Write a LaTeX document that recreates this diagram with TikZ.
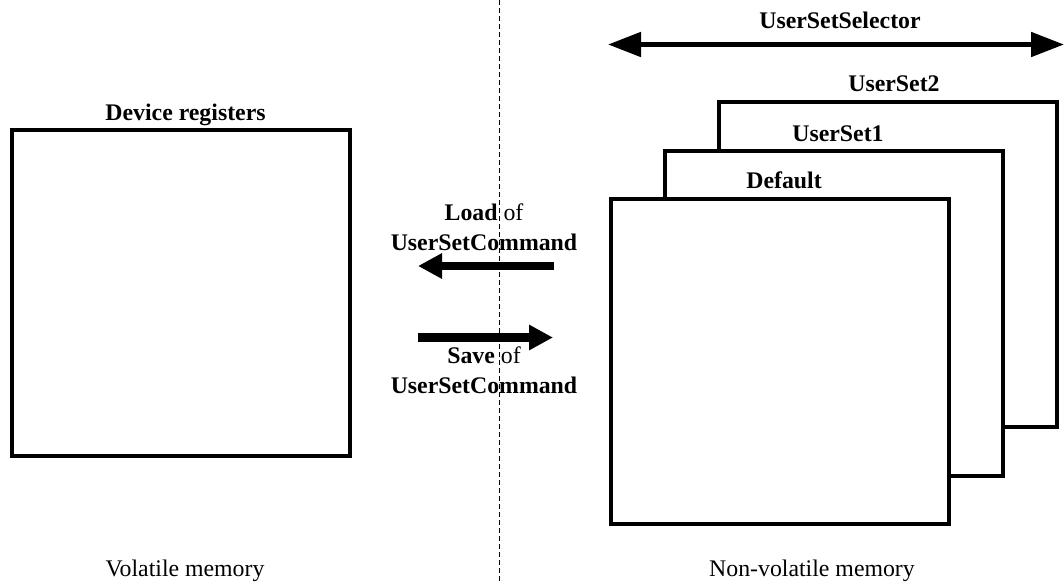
\documentclass[tikz,border=0pt]{standalone}
\usepackage{fontspec}
\setmainfont{Liberation Serif}
\usetikzlibrary{arrows.meta}
\begin{document}
\begin{tikzpicture}[x=1pt,y=-1pt,
  memBox/.style={draw=black,line width=4pt,fill=white,inner sep=0pt,minimum width=338pt,minimum height=325pt},
  lbl/.style={font=\fontsize{23.8}{30}\selectfont\bfseries,anchor=base,inner sep=0pt},
  rlbl/.style={font=\fontsize{23.8}{30}\selectfont,anchor=base,inner sep=0pt},
  cmdlbl/.style={font=\fontsize{23.8}{30}\selectfont,align=center,inner sep=0pt,anchor=base},
  fatArrow/.style={line width=8.5pt,-{Triangle[length=24pt,width=24pt]}}
]
\useasboundingbox (0,0) rectangle (1064,583);
% divider
\coordinate (divTop) at (499,0);
\coordinate (divBot) at (499,583);
\draw[line width=1pt,dash pattern=on 5pt off 3pt] (divTop) -- (divBot);

% volatile
\node[memBox,minimum width=338.5pt,minimum height=326.5pt] (dev) at (180.75,292.75) {};
\node[lbl] (devlbl) at (185.5,121) {Device registers};
\node[rlbl] (vol) at (185,576.5) {Volatile memory};

% non-volatile stack
\node[memBox] (us2) at (888,264.5) {};
\node[memBox] (us1) at (834,313.5) {};
\node[memBox] (def) at (779.5,361.5) {};
\node[lbl] (us2lbl) at (894,92) {UserSet2};
\node[lbl] (us1lbl) at (838,141) {UserSet1};
\node[lbl] (deflbl) at (784,188) {Default};
\node[rlbl] (nvol) at (812,576.5) {Non-volatile memory};

% selector
\node[lbl] (sellbl) at (840,29) {UserSetSelector};
\coordinate (selL) at (608,44.5);
\coordinate (selR) at (1064,44.5);
\draw[line width=5pt,{Triangle[length=33pt,width=24pt]}-{Triangle[length=33pt,width=24pt]}] (selL) -- (selR);

% load / save
\node[cmdlbl] (loadlbl) at (484,250) {\textbf{Load} of\\\textbf{UserSetCommand}};
\coordinate (loadS) at (554,266);
\coordinate (loadE) at (418,266);
\draw[fatArrow] (loadS) -- (loadE);
\coordinate (saveS) at (418,337.5);
\coordinate (saveE) at (553,337.5);
\draw[fatArrow] (saveS) -- (saveE);
\node[cmdlbl] (savelbl) at (484,393) {\textbf{Save} of\\\textbf{UserSetCommand}};
\end{tikzpicture}
\end{document}
